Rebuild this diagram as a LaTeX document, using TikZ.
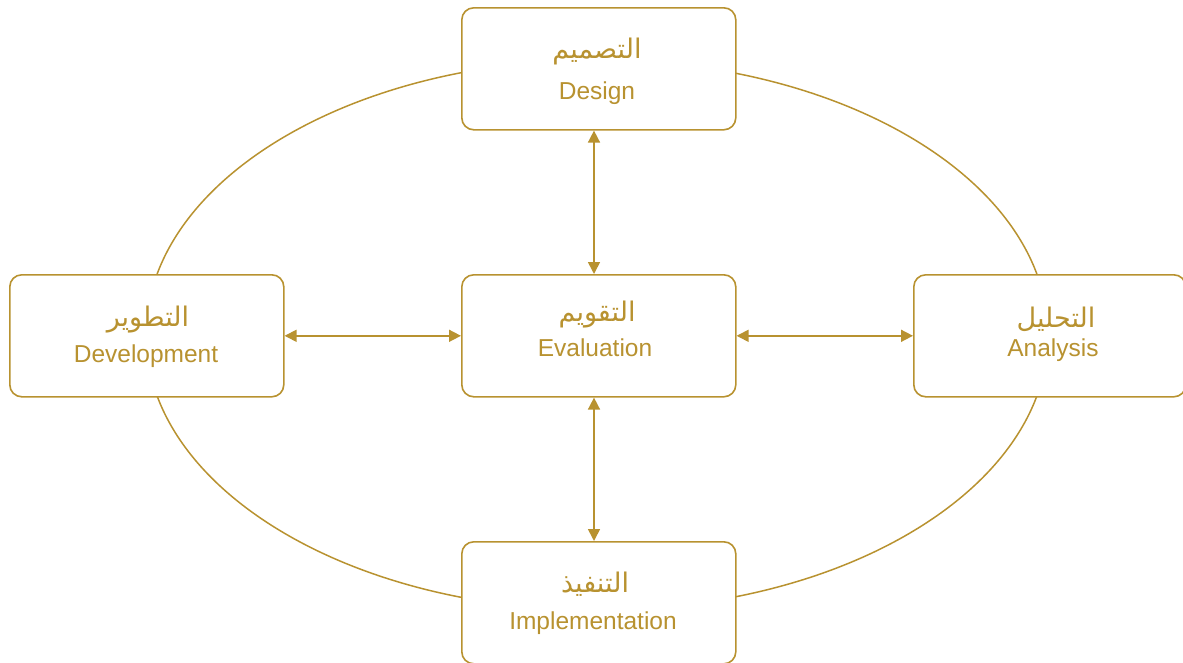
\documentclass[tikz,border=0pt]{standalone}
\usepackage{fontspec}
\setmainfont{Liberation Sans}
\newfontfamily\arabicfont[Script=Arabic]{DejaVu Sans}
\TeXXeTstate=1
\usetikzlibrary{arrows.meta}
\definecolor{gold}{HTML}{B89230}
\tikzset{
  stagebox/.style={draw=gold, line width=1.6pt, fill=white, rounded corners=12pt},
  entext/.style={text=gold, font=\fontsize{24.5}{26}\selectfont, anchor=base, inner sep=0pt},
  artext/.style={text=gold, font=\arabicfont\fontsize{27}{29}\selectfont, anchor=base, inner sep=0pt},
  link/.style={draw=gold, line width=1.6pt, {Triangle[length=12pt,width=12pt]}-{Triangle[length=12pt,width=12pt]}},
}
\begin{document}
\begin{tikzpicture}[x=1pt,y=-1pt]
\useasboundingbox (0,0) rectangle (1183,662);
% cycle ellipse
\draw[gold, line width=1.5pt] (597,335) ellipse [x radius=451, y radius=275];
% boxes
\node[stagebox, minimum width=274pt, minimum height=122pt, anchor=north west] (design) at (461,7) {};
\node[stagebox, minimum width=274pt, minimum height=122pt, anchor=north west] (eval) at (461,274) {};
\node[stagebox, minimum width=274pt, minimum height=122pt, anchor=north west] (dev) at (9,274) {};
\node[stagebox, minimum width=272pt, minimum height=122pt, anchor=north west] (ana) at (913,274) {};
\node[stagebox, minimum width=274pt, minimum height=122pt, anchor=north west] (impl) at (461,541) {};
% labels
\node[artext] (designar) at (597,58.5) {\beginR التصميم\endR};
\node[entext] (designen) at (597,99.5) {Design};
\node[artext] (evalar) at (597,321.5) {\beginR التقويم\endR};
\node[entext] (evalen) at (595,356.5) {Evaluation};
\node[artext] (devar) at (148,326) {\beginR التطوير\endR};
\node[entext] (deven) at (146,362) {Development};
\node[artext] (anaar) at (1056,327.5) {\beginR التحليل\endR};
\node[entext] (anaen) at (1053,356) {Analysis};
\node[artext] (implar) at (595,592.5) {\beginR التنفيذ\endR};
\node[entext] (implen) at (593,629.5) {Implementation};
% connectors
\draw[link] (design.south -| 594,0) -- (eval.north -| 594,0);
\draw[link] (eval.south -| 594,0) -- (impl.north -| 594,0);
\draw[link] (dev.east) -- (eval.west);
\draw[link] (eval.east) -- (ana.west);
\end{tikzpicture}
\end{document}
